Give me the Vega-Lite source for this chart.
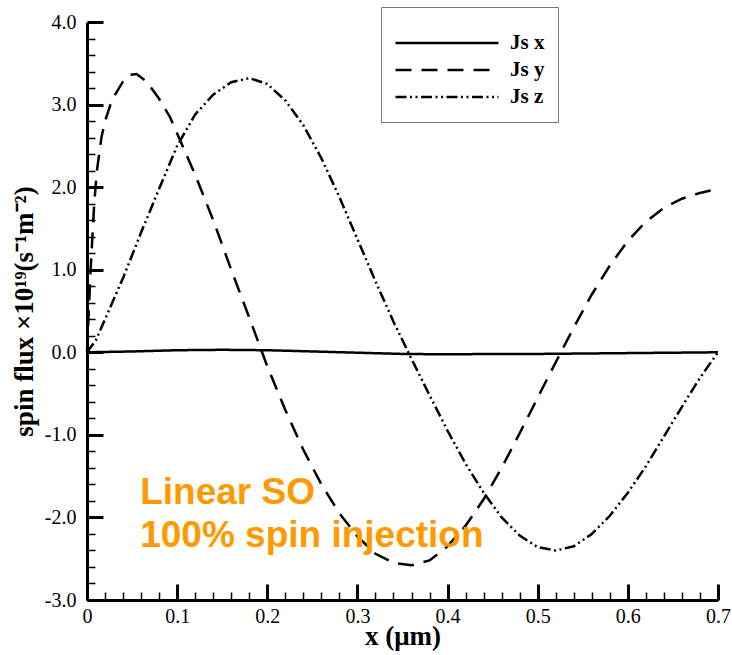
{
  "$schema": "https://vega.github.io/schema/vega-lite/v6.json",
  "width": 631,
  "height": 578,
  "autosize": "none",
  "padding": {"left": 87, "top": 22, "right": 14, "bottom": 55},
  "background": "white",
  "config": {
    "view": {"stroke": null},
    "axis": {
      "domainColor": "black",
      "domainWidth": 3,
      "tickColor": "black",
      "labelColor": "black",
      "titleColor": "black",
      "labelFont": "Liberation Serif",
      "titleFont": "Liberation Serif",
      "labelFlush": false,
      "labelOverlap": false,
      "grid": false
    },
    "legend": {
      "labelFont": "Liberation Serif",
      "labelFontWeight": "bold",
      "labelFontSize": 21,
      "labelColor": "black"
    }
  },
  "datasets": {
    "curves": [
      {"x": 0.00, "value": 0.000, "series": "Jsx"},
      {"x": 0.05, "value": 0.010, "series": "Jsx"},
      {"x": 0.10, "value": 0.025, "series": "Jsx"},
      {"x": 0.15, "value": 0.030, "series": "Jsx"},
      {"x": 0.20, "value": 0.025, "series": "Jsx"},
      {"x": 0.25, "value": 0.010, "series": "Jsx"},
      {"x": 0.30, "value": -0.005, "series": "Jsx"},
      {"x": 0.35, "value": -0.020, "series": "Jsx"},
      {"x": 0.40, "value": -0.025, "series": "Jsx"},
      {"x": 0.45, "value": -0.020, "series": "Jsx"},
      {"x": 0.50, "value": -0.020, "series": "Jsx"},
      {"x": 0.55, "value": -0.015, "series": "Jsx"},
      {"x": 0.60, "value": -0.010, "series": "Jsx"},
      {"x": 0.65, "value": -0.005, "series": "Jsx"},
      {"x": 0.70, "value": 0.000, "series": "Jsx"},

      {"x": 0.000, "value": 0.00, "series": "Jsy"},
      {"x": 0.004, "value": 1.00, "series": "Jsy"},
      {"x": 0.008, "value": 1.80, "series": "Jsy"},
      {"x": 0.011, "value": 2.20, "series": "Jsy"},
      {"x": 0.016, "value": 2.60, "series": "Jsy"},
      {"x": 0.020, "value": 2.80, "series": "Jsy"},
      {"x": 0.026, "value": 3.00, "series": "Jsy"},
      {"x": 0.030, "value": 3.10, "series": "Jsy"},
      {"x": 0.040, "value": 3.28, "series": "Jsy"},
      {"x": 0.048, "value": 3.36, "series": "Jsy"},
      {"x": 0.055, "value": 3.37, "series": "Jsy"},
      {"x": 0.066, "value": 3.28, "series": "Jsy"},
      {"x": 0.080, "value": 3.07, "series": "Jsy"},
      {"x": 0.092, "value": 2.85, "series": "Jsy"},
      {"x": 0.104, "value": 2.55, "series": "Jsy"},
      {"x": 0.120, "value": 2.15, "series": "Jsy"},
      {"x": 0.140, "value": 1.60, "series": "Jsy"},
      {"x": 0.160, "value": 1.00, "series": "Jsy"},
      {"x": 0.180, "value": 0.42, "series": "Jsy"},
      {"x": 0.200, "value": -0.17, "series": "Jsy"},
      {"x": 0.220, "value": -0.70, "series": "Jsy"},
      {"x": 0.240, "value": -1.18, "series": "Jsy"},
      {"x": 0.260, "value": -1.60, "series": "Jsy"},
      {"x": 0.280, "value": -1.95, "series": "Jsy"},
      {"x": 0.300, "value": -2.23, "series": "Jsy"},
      {"x": 0.320, "value": -2.44, "series": "Jsy"},
      {"x": 0.340, "value": -2.55, "series": "Jsy"},
      {"x": 0.360, "value": -2.58, "series": "Jsy"},
      {"x": 0.380, "value": -2.52, "series": "Jsy"},
      {"x": 0.400, "value": -2.35, "series": "Jsy"},
      {"x": 0.420, "value": -2.10, "series": "Jsy"},
      {"x": 0.440, "value": -1.78, "series": "Jsy"},
      {"x": 0.460, "value": -1.40, "series": "Jsy"},
      {"x": 0.480, "value": -0.98, "series": "Jsy"},
      {"x": 0.500, "value": -0.55, "series": "Jsy"},
      {"x": 0.520, "value": -0.12, "series": "Jsy"},
      {"x": 0.540, "value": 0.30, "series": "Jsy"},
      {"x": 0.560, "value": 0.70, "series": "Jsy"},
      {"x": 0.580, "value": 1.05, "series": "Jsy"},
      {"x": 0.600, "value": 1.35, "series": "Jsy"},
      {"x": 0.620, "value": 1.58, "series": "Jsy"},
      {"x": 0.640, "value": 1.75, "series": "Jsy"},
      {"x": 0.660, "value": 1.86, "series": "Jsy"},
      {"x": 0.680, "value": 1.93, "series": "Jsy"},
      {"x": 0.700, "value": 1.98, "series": "Jsy"},

      {"x": 0.00, "value": 0.00, "series": "Jsz"},
      {"x": 0.01, "value": 0.15, "series": "Jsz"},
      {"x": 0.02, "value": 0.40, "series": "Jsz"},
      {"x": 0.04, "value": 0.90, "series": "Jsz"},
      {"x": 0.06, "value": 1.45, "series": "Jsz"},
      {"x": 0.08, "value": 1.98, "series": "Jsz"},
      {"x": 0.10, "value": 2.50, "series": "Jsz"},
      {"x": 0.12, "value": 2.88, "series": "Jsz"},
      {"x": 0.14, "value": 3.12, "series": "Jsz"},
      {"x": 0.16, "value": 3.27, "series": "Jsz"},
      {"x": 0.18, "value": 3.32, "series": "Jsz"},
      {"x": 0.20, "value": 3.25, "series": "Jsz"},
      {"x": 0.22, "value": 3.05, "series": "Jsz"},
      {"x": 0.24, "value": 2.75, "series": "Jsz"},
      {"x": 0.26, "value": 2.35, "series": "Jsz"},
      {"x": 0.28, "value": 1.88, "series": "Jsz"},
      {"x": 0.30, "value": 1.37, "series": "Jsz"},
      {"x": 0.32, "value": 0.86, "series": "Jsz"},
      {"x": 0.34, "value": 0.37, "series": "Jsz"},
      {"x": 0.36, "value": -0.08, "series": "Jsz"},
      {"x": 0.38, "value": -0.52, "series": "Jsz"},
      {"x": 0.40, "value": -0.95, "series": "Jsz"},
      {"x": 0.42, "value": -1.35, "series": "Jsz"},
      {"x": 0.44, "value": -1.70, "series": "Jsz"},
      {"x": 0.46, "value": -2.00, "series": "Jsz"},
      {"x": 0.48, "value": -2.22, "series": "Jsz"},
      {"x": 0.50, "value": -2.36, "series": "Jsz"},
      {"x": 0.52, "value": -2.40, "series": "Jsz"},
      {"x": 0.54, "value": -2.35, "series": "Jsz"},
      {"x": 0.56, "value": -2.20, "series": "Jsz"},
      {"x": 0.58, "value": -1.98, "series": "Jsz"},
      {"x": 0.60, "value": -1.70, "series": "Jsz"},
      {"x": 0.62, "value": -1.38, "series": "Jsz"},
      {"x": 0.64, "value": -1.02, "series": "Jsz"},
      {"x": 0.66, "value": -0.66, "series": "Jsz"},
      {"x": 0.68, "value": -0.31, "series": "Jsz"},
      {"x": 0.70, "value": 0.00, "series": "Jsz"}
    ],
    "notes": [
      {"x": 0.059, "value": -1.70, "label": "Linear SO"},
      {"x": 0.059, "value": -2.23, "label": "100% spin injection"}
    ]
  },
  "resolve": {"axis": {"x": "independent", "y": "independent"}},
  "layer": [
    {
      "data": {"name": "curves"},
      "mark": {"type": "line", "strokeWidth": 2.5, "color": "black", "strokeCap": "butt"},
      "encoding": {
        "x": {
          "field": "x",
          "type": "quantitative",
          "scale": {"domain": [0, 0.7], "nice": false, "zero": false},
          "axis": {
            "orient": "bottom",
            "values": [0, 0.1, 0.2, 0.3, 0.4, 0.5, 0.6, 0.7],
            "labelExpr": "datum.value == 0 ? '0' : format(datum.value, '.1f')",
            "labelFontSize": 20,
            "labelPadding": 22,
            "tickSize": -16,
            "tickWidth": 3,
            "title": "x (μm)",
            "titleFontSize": 27,
            "titleFontWeight": "bold",
            "titlePadding": -3
          }
        },
        "y": {
          "field": "value",
          "type": "quantitative",
          "scale": {"domain": [-3, 4], "nice": false, "zero": false},
          "axis": {
            "orient": "left",
            "values": [-3, -2, -1, 0, 1, 2, 3, 4],
            "labelExpr": "replace(format(datum.value, '.1f'), '−', '-')",
            "labelFontSize": 20,
            "labelPadding": 27,
            "tickSize": -16,
            "tickWidth": 3,
            "title": "spin flux ×10¹⁹(s⁻¹m⁻²)",
            "titleFontSize": 27,
            "titleFontWeight": "bold",
            "titlePadding": 6
          }
        },
        "detail": {"field": "series"},
        "strokeDash": {
          "field": "series",
          "type": "nominal",
          "scale": {
            "domain": ["Jsx", "Jsy", "Jsz"],
            "range": [[1, 0], [16, 10], [11, 3.5, 2, 3.5, 2, 3.5]]
          },
          "legend": {
            "title": " ",
            "titleFontSize": 8,
            "titlePadding": 3,
            "orient": "none",
            "legendX": 294,
            "legendY": -15,
            "symbolType": "stroke",
            "symbolSize": 10609,
            "symbolStrokeWidth": 2.5,
            "symbolStrokeColor": "black",
            "clipHeight": 24,
            "rowPadding": 3,
            "labelOffset": 10,
            "padding": 13,
            "strokeColor": "#777777",
            "fillColor": "white",
            "labelExpr": "replace(datum.label, 'Js', 'Js ')"
          }
        }
      }
    },
    {
      "data": {"name": "notes"},
      "mark": {
        "type": "text",
        "align": "left",
        "baseline": "middle",
        "font": "Liberation Sans",
        "fontWeight": "bold",
        "fontSize": 37,
        "color": "#ff9900"
      },
      "encoding": {
        "x": {
          "field": "x",
          "type": "quantitative",
          "axis": {
            "orient": "bottom",
            "values": [0.02, 0.04, 0.06, 0.08, 0.12, 0.14, 0.16, 0.18, 0.22, 0.24, 0.26, 0.28, 0.32, 0.34, 0.36, 0.38, 0.42, 0.44, 0.46, 0.48, 0.52, 0.54, 0.56, 0.58, 0.62, 0.64, 0.66, 0.68],
            "labels": false,
            "domain": false,
            "tickSize": -8,
            "tickWidth": 1.5,
            "title": null
          }
        },
        "y": {
          "field": "value",
          "type": "quantitative",
          "axis": {
            "orient": "left",
            "values": [-2.8, -2.6, -2.4, -2.2, -1.8, -1.6, -1.4, -1.2, -0.8, -0.6, -0.4, -0.2, 0.2, 0.4, 0.6, 0.8, 1.2, 1.4, 1.6, 1.8, 2.2, 2.4, 2.6, 2.8, 3.2, 3.4, 3.6, 3.8],
            "labels": false,
            "domain": false,
            "tickSize": -8,
            "tickWidth": 1.5,
            "title": null
          }
        },
        "text": {"field": "label"}
      }
    }
  ]
}
